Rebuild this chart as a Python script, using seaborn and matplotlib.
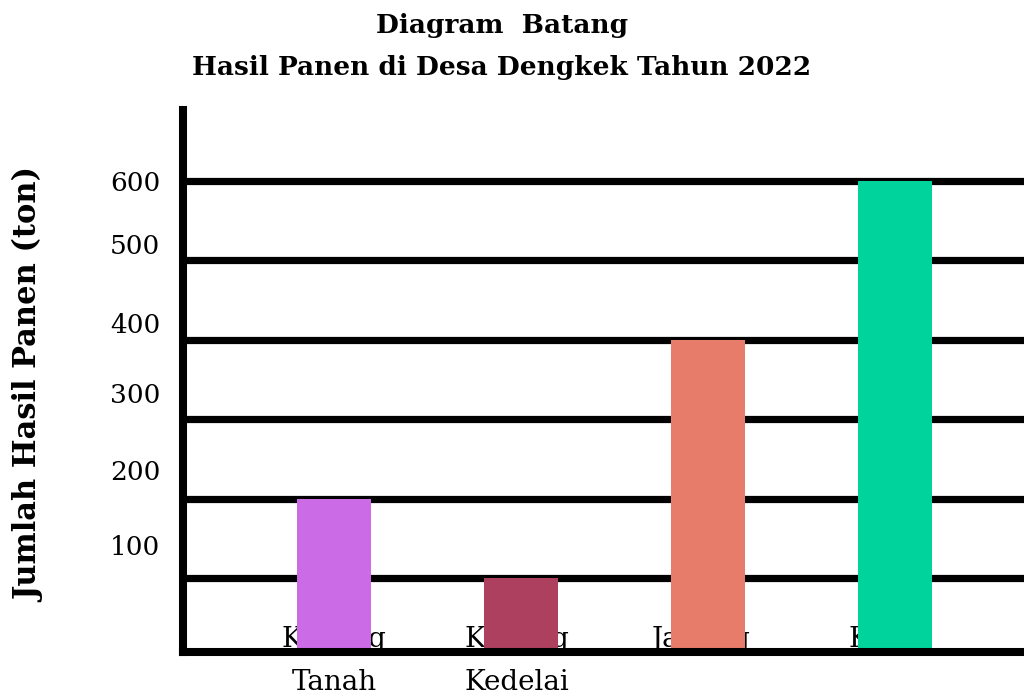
import matplotlib
matplotlib.use("Agg")
import matplotlib.pyplot as plt
import matplotlib.transforms as mtransforms
import pandas as pd
import seaborn as sns

# data
crops = ["Kacang\nTanah", "Kacang\nKedelai", "Jagung", "Kopi"]
harvest = [200, 100, 400, 600]
bar_colors = ["#CB6CE6", "#AD3F5F", "#E67C69", "#00D49C"]
tick_values = [100, 200, 300, 400, 500, 600]
tick_labels = ["100", "200", "300", "400", "500", "600"]

# the labels in the original sit a bit off their lines
tick_label_shift = [39, 33, 30, 18, 18, -3]
crop_label_shift = [0.0, -0.02, -0.04, -0.08]

sns.set_style("white")
plt.rcParams["font.family"] = ["DejaVu Serif"]
plt.rcParams["text.color"] = "black"

df = pd.DataFrame({"crop": crops, "ton": harvest})

fig = plt.figure(figsize=(10.24, 7), dpi=100)
ax = fig.add_axes([0.1787, 0.0686, 0.8213, 0.7743])

# horizontal lines behind the bars
for v in tick_values:
    ax.axhline(v, color="black", lw=5.2, zorder=1)

# category names, partly hidden behind the bars
for i, name in enumerate(crops):
    ax.text(i + crop_label_shift[i], 39, name, ha="center", va="top",
            fontsize=20, linespacing=1.72, zorder=2, clip_on=False)

sns.barplot(data=df, x="crop", y="ton", hue="crop", palette=bar_colors,
            width=0.4, legend=False, saturation=1, linewidth=0,
            edgecolor="none", ax=ax, zorder=3)

ax.set_ylim(6.8, 689.4)
ax.set_xlim(-0.807, 3.69)
ax.set_yticks([])
ax.set_xticks([])
ax.set_xlabel("")
ax.set_ylabel("")

trans = mtransforms.blended_transform_factory(ax.transAxes, ax.transData)
for v, lab, s in zip(tick_values, tick_labels, tick_label_shift):
    ax.text(-0.027, v + s, lab, transform=trans, ha="right", va="center",
            fontsize=19)

for side in ["top", "right"]:
    ax.spines[side].set_visible(False)
for side in ["left", "bottom"]:
    ax.spines[side].set_linewidth(5.8)
    ax.spines[side].set_color("black")
    ax.spines[side].set_zorder(4)

fig.text(0.49, 0.964, "Diagram  Batang", ha="center", va="center",
         fontsize=19, fontweight="bold")
fig.text(0.49, 0.903, "Hasil Panen di Desa Dengkek Tahun 2022", ha="center",
         va="center", fontsize=19, fontweight="bold")
fig.text(0.029, 0.45, "Jumlah Hasil Panen (ton)", rotation=90, ha="center",
         va="center", fontsize=22, fontweight="bold")

fig.savefig("out.png", dpi=100)
